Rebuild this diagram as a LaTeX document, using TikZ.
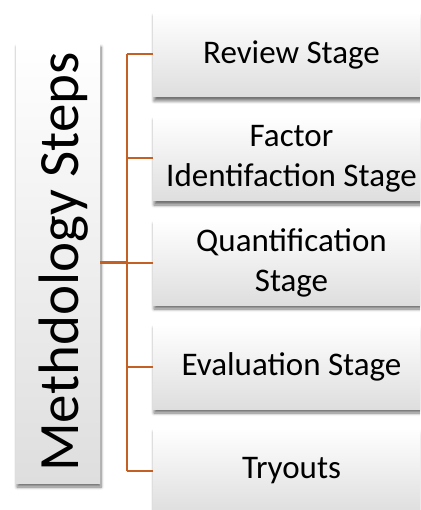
\documentclass[tikz,border=0pt]{standalone}
\usepackage{fontspec}
\setmainfont{Carlito}
\usetikzlibrary{shadows.blur}
\definecolor{linkc}{RGB}{197,96,36}
\definecolor{boxbot}{RGB}{222,222,222}
\tikzset{
  stagebox/.style={rectangle, minimum width=277pt, minimum height=85pt, inner sep=0pt,
    top color=white, bottom color=boxbot, draw=none,
    blur shadow={shadow xshift=1pt, shadow yshift=-4pt, shadow blur steps=6, shadow blur radius=3pt, shadow opacity=55},
    font=\fontsize{33}{40}\selectfont, align=center, text=black},
  titlebox/.style={rectangle, minimum width=84pt, minimum height=440pt, inner sep=0pt,
    top color=white, bottom color=boxbot, draw=none,
    blur shadow={shadow xshift=1pt, shadow yshift=-4pt, shadow blur steps=6, shadow blur radius=3pt, shadow opacity=55}},
  trunk/.style={draw=linkc, line width=2.4pt},
  branch/.style={draw=linkc, line width=2pt},
}
\begin{document}
\begin{tikzpicture}[x=1pt,y=-1pt]
\useasboundingbox (0,0) rectangle (420,510);
\clip (0,0) rectangle (420,510);
\node[titlebox] (title) at (58,263) {};
\node[rotate=90, anchor=base, font=\fontsize{57}{60}\selectfont, inner sep=0pt] (titletext) at (78,262) {Methdology Steps};
\node[stagebox] (s1) at (291.5,54.5) {Review Stage};
\node[stagebox] (s2) at (291.5,158.5) {Factor\\Identifaction Stage};
\node[stagebox] (s3) at (291.5,262.5) {Quantification\\Stage};
\node[stagebox] (s4) at (291.5,366.5) {Evaluation Stage};
\node[stagebox] (s5) at (291.5,470.5) {Tryouts};
\coordinate (top) at (127,54.5);
\coordinate (bot) at (127,470.5);
\coordinate (mid) at (127,262.5);
\draw[trunk] (top) -- (bot);
\draw[line width=3pt, draw=linkc] (title.east |- mid) -- (mid);
\foreach \i in {1,...,5} {
  \draw[branch] (s\i.west -| top) -- (s\i.west);
}
\end{tikzpicture}
\end{document}
